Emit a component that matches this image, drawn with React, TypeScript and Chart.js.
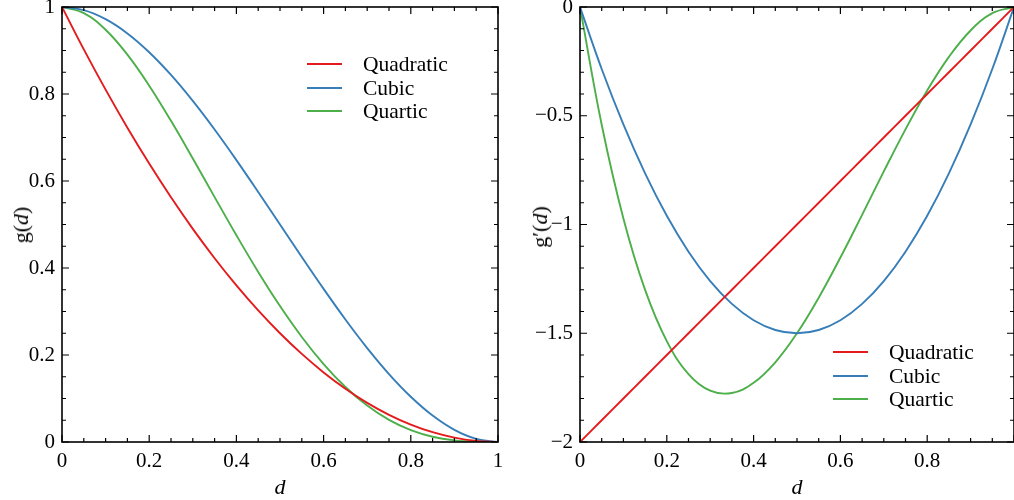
import React, { useEffect, useRef } from "react";
import { Chart, registerables } from "chart.js";
Chart.register(...registerables);

// ---- data ----
const D = [0, 0.05, 0.1, 0.15, 0.2, 0.25, 0.3, 0.35, 0.4, 0.45, 0.5, 0.55, 0.6, 0.65, 0.7, 0.75, 0.8, 0.85, 0.9, 0.95, 1];

const gQuadratic = [1, 0.9025, 0.81, 0.7225, 0.64, 0.5625, 0.49, 0.4225, 0.36, 0.3025, 0.25, 0.2025, 0.16, 0.1225, 0.09, 0.0625, 0.04, 0.0225, 0.01, 0.0025, 0];
const gCubic = [1, 0.99275, 0.972, 0.93925, 0.896, 0.84375, 0.784, 0.71825, 0.648, 0.57475, 0.5, 0.42525, 0.352, 0.28175, 0.216, 0.15625, 0.104, 0.06075, 0.028, 0.00725, 0];
const gQuartic = [1, 0.98598, 0.9477, 0.89048, 0.8192, 0.73828, 0.6517, 0.56298, 0.4752, 0.39098, 0.3125, 0.24148, 0.1792, 0.12648, 0.0837, 0.05078, 0.0272, 0.01198, 0.0037, 0.00048, 0];

const dgQuadratic = [-2, -1.9, -1.8, -1.7, -1.6, -1.5, -1.4, -1.3, -1.2, -1.1, -1, -0.9, -0.8, -0.7, -0.6, -0.5, -0.4, -0.3, -0.2, -0.1, 0];
const dgCubic = [0, -0.285, -0.54, -0.765, -0.96, -1.125, -1.26, -1.365, -1.44, -1.485, -1.5, -1.485, -1.44, -1.365, -1.26, -1.125, -0.96, -0.765, -0.54, -0.285, 0];
const dgQuartic = [0, -0.5415, -0.972, -1.3005, -1.536, -1.6875, -1.764, -1.7745, -1.728, -1.6335, -1.5, -1.3365, -1.152, -0.9555, -0.756, -0.5625, -0.384, -0.2295, -0.108, -0.0285, 0];

const seriesNames = ["Quadratic", "Cubic", "Quartic"];
const seriesColors = ["#e41a1c", "#377eb8", "#4daf4a"];

const xTickValues = [0, 0.2, 0.4, 0.6, 0.8, 1];
const leftYTicks = [0, 0.2, 0.4, 0.6, 0.8, 1];
const rightYTicks = [-2, -1.5, -1, -0.5, 0];

const FONT = "'Liberation Serif', 'Times New Roman', serif";

const fmt = (v: number) => {
  const r = Math.round(v * 1000) / 1000;
  const s = String(Math.abs(r));
  return r < 0 ? "\u2212" + s : s;
};

const frameTicks = {
  id: "frameTicks",
  afterDatasetsDraw(chart: any, _args: any, opts: any) {
    const { ctx, chartArea: a, scales } = chart;
    const xs = scales.x, ys = scales.y;
    ctx.save();
    ctx.strokeStyle = "#000";
    ctx.lineWidth = 1.6;
    ctx.strokeRect(a.left, a.top, a.right - a.left, a.bottom - a.top);
    ctx.lineWidth = 1.2;
    const MAJ = 7, MIN = 4;
    const n1 = Math.round((xs.max - xs.min) / opts.xMinor);
    ctx.beginPath();
    for (let i = 0; i <= n1; i++) {
      const v = xs.min + i * opts.xMinor;
      const r = v / opts.xMajor;
      const L = Math.abs(r - Math.round(r)) < 1e-6 ? MAJ : MIN;
      const px = xs.getPixelForValue(v);
      ctx.moveTo(px, a.bottom); ctx.lineTo(px, a.bottom - L);
      ctx.moveTo(px, a.top); ctx.lineTo(px, a.top + L);
    }
    const n2 = Math.round((ys.max - ys.min) / opts.yMinor);
    for (let i = 0; i <= n2; i++) {
      const v = ys.min + i * opts.yMinor;
      const r = v / opts.yMajor;
      const L = Math.abs(r - Math.round(r)) < 1e-6 ? MAJ : MIN;
      const py = ys.getPixelForValue(v);
      ctx.moveTo(a.left, py); ctx.lineTo(a.left + L, py);
      ctx.moveTo(a.right, py); ctx.lineTo(a.right - L, py);
    }
    ctx.stroke();
    ctx.restore();
  },
};

function buildConfig(ys: number[][], p: any) {
  return {
    type: "line",
    data: {
      datasets: ys.map((arr, i) => ({
        label: seriesNames[i],
        data: D.map((x, j) => ({ x, y: arr[j] })),
        borderColor: seriesColors[i],
        backgroundColor: seriesColors[i],
        borderWidth: 1.9,
        pointRadius: 0,
        fill: false,
        tension: 0.4,
      })),
    },
    plugins: [frameTicks],
    options: {
      animation: false,
      responsive: false,
      events: [],
      layout: { padding: { top: 7, right: p.padRight, left: 0, bottom: 0 } },
      plugins: {
        legend: { display: false },
        tooltip: { enabled: false },
        frameTicks: { xMajor: 0.2, xMinor: 0.05, yMajor: p.yMajor, yMinor: p.yMinor },
      },
      scales: {
        x: {
          type: "linear",
          min: 0,
          max: 1,
          grid: { display: false, drawTicks: false },
          border: { display: false },
          afterBuildTicks: (s: any) => { s.ticks = xTickValues.map((v) => ({ value: v })); },
          ticks: {
            padding: 7,
            color: "#000",
            autoSkip: false,
            maxRotation: 0,
            font: { family: FONT, size: 21 },
            callback: (v: number) => (p.hideLastX && v === 1 ? "" : fmt(v)),
          },
          afterFit: (s: any) => { s.height = 58; s.paddingLeft = 0; s.paddingRight = 0; },
        },
        y: {
          type: "linear",
          min: p.yMin,
          max: p.yMax,
          grid: { display: false, drawTicks: false },
          border: { display: false },
          afterBuildTicks: (s: any) => { s.ticks = p.yTicks.map((v: number) => ({ value: v })); },
          ticks: {
            padding: 7,
            color: "#000",
            autoSkip: false,
            font: { family: FONT, size: 21 },
            callback: (v: number) => fmt(v),
          },
          afterFit: (s: any) => { s.width = p.yWidth; s.paddingTop = 0; s.paddingBottom = 0; },
        },
      },
    },
  };
}

function Panel({ ys, p, left }: { ys: number[][]; p: any; left: number }) {
  const ref = useRef<HTMLCanvasElement>(null);
  useEffect(() => {
    const c = new Chart(ref.current as HTMLCanvasElement, buildConfig(ys, p) as any);
    return () => c.destroy();
  }, []);
  return (
    <canvas
      ref={ref}
      width={507}
      height={500}
      style={{ position: "absolute", left, top: 0, width: 507, height: 500, display: "block" }}
    />
  );
}

function Legend({ x, y }: { x: number; y: number }) {
  return (
    <>
      {seriesNames.map((n, i) => (
        <div key={n} style={{ position: "absolute", left: x, top: y + i * 23.5 - 12, height: 24, display: "flex", alignItems: "center" }}>
          <div style={{ width: 35, height: 0, borderTop: `2px solid ${seriesColors[i]}` }} />
          <span style={{ marginLeft: 21, fontSize: 21.5, lineHeight: "24px", fontFamily: FONT }}>{n}</span>
        </div>
      ))}
    </>
  );
}

export default function App() {
  return (
    <div style={{ position: "absolute", left: 0, top: 0, width: 1014, height: 500, overflow: "hidden", background: "#fff", fontFamily: FONT, color: "#000" }}>
      <Panel ys={[gQuadratic, gCubic, gQuartic]} left={0}
        p={{ yMin: 0, yMax: 1, yMajor: 0.2, yMinor: 0.05, yTicks: leftYTicks, yWidth: 62, padRight: 9, hideLastX: false }} />
      <Panel ys={[dgQuadratic, dgCubic, dgQuartic]} left={507}
        p={{ yMin: -2, yMax: 0, yMajor: 0.5, yMinor: 0.1, yTicks: rightYTicks, yWidth: 73, padRight: 0, hideLastX: true }} />
      <Legend x={307} y={64} />
      <Legend x={833} y={352} />
      <div style={{ position: "absolute", left: 21, top: 225, transform: "translate(-50%,-50%) rotate(-90deg)", fontSize: 22, whiteSpace: "nowrap" }}>
        g(<i>d</i>)
      </div>
      <div style={{ position: "absolute", left: 540, top: 227, transform: "translate(-50%,-50%) rotate(-90deg)", fontSize: 22, whiteSpace: "nowrap" }}>
        g′(<i>d</i>)
      </div>
      <div style={{ position: "absolute", left: 280, top: 487, transform: "translate(-50%,-50%)", fontSize: 22, fontStyle: "italic" }}>d</div>
      <div style={{ position: "absolute", left: 797, top: 487, transform: "translate(-50%,-50%)", fontSize: 22, fontStyle: "italic" }}>d</div>
    </div>
  );
}
